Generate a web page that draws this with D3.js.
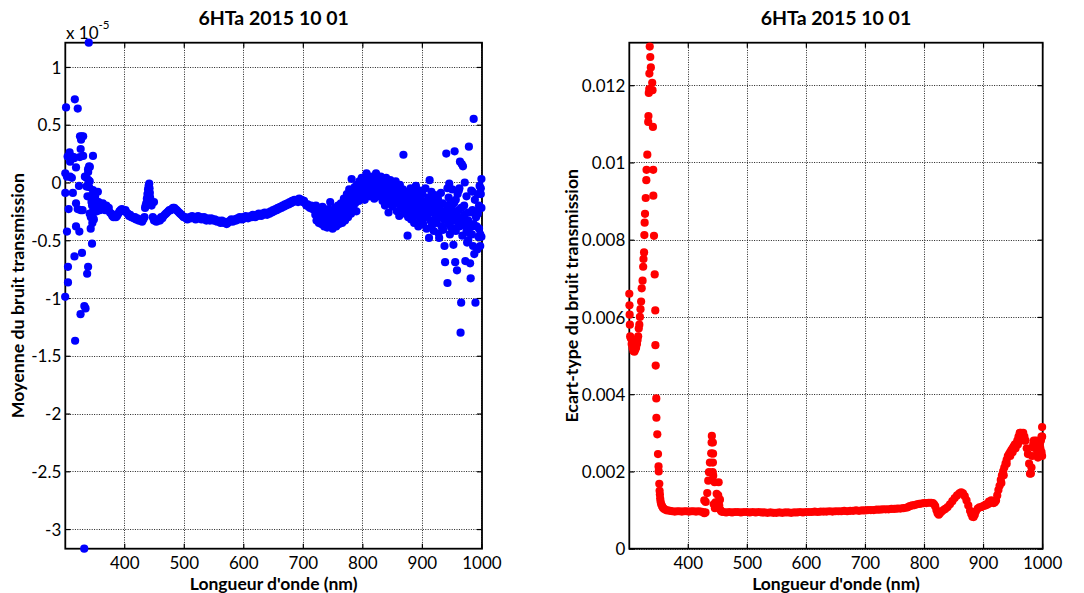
<!DOCTYPE html>
<html><head><meta charset="utf-8">
<script src="https://cdn.jsdelivr.net/npm/d3@7"></script>
<style>
body{margin:0;background:#fff;}
svg text{font-family:"Lato","Open Sans",sans-serif;fill:#000;}
</style></head><body>
<svg id="chart" width="1084" height="593"></svg>
<script>
// ---------- text ----------
const titleText = "6HTa 2015 10 01";
const xLabelText = "Longueur d'onde (nm)";
const meanLabelText = "Moyenne du bruit transmission";
const stdLabelText = "Ecart-type du bruit transmission";

// ---------- ticks ----------
const xTicks = [400, 500, 600, 700, 800, 900, 1000];
const meanTicks = [1, 0.5, 0, -0.5, -1, -1.5, -2, -2.5, -3];
const meanTickLabels = ["1", "0.5", "0", "-0.5", "-1", "-1.5", "-2", "-2.5", "-3"];
const stdTicks = [0, 0.002, 0.004, 0.006, 0.008, 0.01, 0.012];
const stdTickLabels = ["0", "0.002", "0.004", "0.006", "0.008", "0.01", "0.012"];
const xDomain = [301, 1001];
const meanDomain = [-3.17, 1.21];   // x 10^-5
const stdDomain = [0, 0.0131];

// ---------- mean of noise (units of 1e-5): [wavelength nm, value] ----------
const meanUvScatter = [
 [340.4,1.21],[302.2,0.65],[317,0.72],[321.9,0.64],[325.7,0.40],[328.5,0.40],[331,0.40],[327.5,0.37],
 [326.8,0.29],[331,0.23],[347.5,0.23],[304.9,0.225],[308.2,0.26],[312,0.225],[309,0.18],[315.8,0.21],
 [319,0.13],[339.3,0.115],[341,0.14],[301,0.08],[303.8,0.05],[309,0.05],[312,0.04],[333.9,0.05],
 [336.6,0.04],[342,0.01],[324,-0.03],[336.6,-0.035],[301,-0.09],[313.7,-0.09],[347.5,-0.065],[355.7,-0.08],
 [350.3,-0.15],[306.6,-0.23],[319,-0.18],[321.8,-0.23],[327,-0.24],[330,-0.24],[342,-0.27],[347.5,-0.25],
 [349,-0.32],[346.4,-0.35],[343.7,-0.4],[303.8,-0.425],[319,-0.38],[324.6,-0.425],[345.9,-0.53],[316.4,-0.64],
 [329,-0.61],[305.5,-0.73],[339.3,-0.73],[337.7,-0.79],[305.5,-0.865],[300.8,-0.99],[326.6,-1.14],[333,-1.07],
 [335,-1.09],[317.5,-1.37],[332.8,-3.17],[315.3,0.22],[325.4,0.22],[342.2,0.135],[339.4,0.09],[341,-0.04],
 [338.3,-0.12],[343,-0.12],[345,-0.17],[346,-0.2],[348,-0.1],[349,-0.18],[350,-0.22],[351,-0.12],
 [352,-0.2],[353,-0.16],[354,-0.25],[355,-0.19],[356,-0.23],[357,-0.17],[358,-0.21],[359,-0.24],
 [344,-0.3],[347,-0.28],[340,0.02],[338,-0.03]
];
const meanBand = [
 [360,-0.2],[362,-0.22],[364,-0.18],[366,-0.21],[368,-0.24],[370,-0.2],[372,-0.23],[374,-0.22],[376,-0.26],[378,-0.27],
 [380,-0.29],[382,-0.3],[384,-0.28],[386,-0.3],[388,-0.29],[390,-0.27],[392,-0.25],[394,-0.24],[396,-0.23],[398,-0.24],
 [400,-0.25],[402,-0.24],[404,-0.26],[406,-0.27],[408,-0.29],[410,-0.28],[412,-0.3],[414,-0.3],[416,-0.31],[418,-0.3],
 [420,-0.32],[422,-0.31],[424,-0.33],[426,-0.32],[428,-0.33],[430,-0.34],[432,-0.32],[434,-0.3],
 [448,-0.3],[450,-0.33],[452,-0.32],[454,-0.34],[456,-0.33],[458,-0.32],[460,-0.33],[462,-0.3],[464,-0.31],[466,-0.29],
 [468,-0.28],[470,-0.27],[472,-0.26],[474,-0.25],[476,-0.24],[478,-0.24],[480,-0.23],[482,-0.22],[484,-0.22],[486,-0.23],
 [488,-0.24],[490,-0.25],[492,-0.26],[494,-0.27],[496,-0.28],[498,-0.29],[500,-0.3],[502,-0.3],[504,-0.31],[506,-0.32],
 [508,-0.31],[510,-0.3],[512,-0.31],[514,-0.29],[516,-0.3],[518,-0.31],[520,-0.32],[522,-0.3],[524,-0.29],[526,-0.31],
 [528,-0.3],[530,-0.32],[532,-0.31],[534,-0.3],[536,-0.32],[538,-0.33],[540,-0.31],[542,-0.32],[544,-0.33],[546,-0.31],
 [548,-0.32],[550,-0.33],[552,-0.32],[554,-0.33],[556,-0.34],[558,-0.33],[560,-0.34],[562,-0.35],[564,-0.33],[566,-0.34],
 [568,-0.35],[570,-0.34],[572,-0.36],[574,-0.35],[576,-0.34],[578,-0.33],[580,-0.32],[582,-0.34],[584,-0.33],[586,-0.32],
 [588,-0.33],[590,-0.31],[592,-0.32],[594,-0.3],[596,-0.31],[598,-0.32],[600,-0.3],[602,-0.31],[604,-0.29],[606,-0.3],
 [608,-0.31],[610,-0.3],[612,-0.29],[614,-0.3],[616,-0.28],[618,-0.29],[620,-0.3],[622,-0.28],[624,-0.29],[626,-0.27],
 [628,-0.28],[630,-0.29],[632,-0.27],[634,-0.28],[636,-0.26],[638,-0.27],[640,-0.28],[642,-0.26],[644,-0.27],[646,-0.25],
 [648,-0.26],[650,-0.24],[652,-0.25],[654,-0.23],[656,-0.24],[658,-0.22],[660,-0.23],[662,-0.21],[664,-0.22],[666,-0.2],
 [668,-0.21],[670,-0.19],[672,-0.2],[674,-0.18],[676,-0.19],[678,-0.17],[680,-0.18],[682,-0.16],[684,-0.17],[686,-0.15],
 [688,-0.16],[690,-0.15],[692,-0.17],[694,-0.14],[696,-0.16],[698,-0.15],[700,-0.17],[702,-0.16],[704,-0.18],[706,-0.2],
 [708,-0.19],[710,-0.21],[712,-0.22],[714,-0.2],[716,-0.23],[718,-0.21],[720,-0.24]
];
const meanSpike = [
 [435,-0.22],[436,-0.2],[437,-0.18],[438,-0.14],[439,-0.1],[439.5,-0.15],[440,-0.06],[441,-0.03],[441.5,-0.11],
 [442,-0.01],[442.5,-0.05],[443,-0.09],[443.5,-0.13],[444,-0.17],[446,-0.2],[450,-0.17]
];
const meanCloud = [
 [721,-0.28],[722,-0.2],[723,-0.33],[724,-0.25],[725,-0.3],[726,-0.22],[727,-0.35],[728,-0.27],[729,-0.31],[730,-0.24],
 [731,-0.36],[732,-0.29],[733,-0.21],[734,-0.33],[735,-0.27],[736,-0.38],[737,-0.3],[738,-0.24],[739,-0.34],[740,-0.28],
 [741,-0.39],[742,-0.31],[743,-0.23],[744,-0.35],[745,-0.27],[746,-0.17],[747,-0.37],[748,-0.3],[749,-0.25],[750,-0.4],
 [751,-0.33],[752,-0.28],[753,-0.36],[754,-0.22],[755,-0.31],[756,-0.38],[757,-0.27],[758,-0.34],[759,-0.2],[760,-0.3],
 [761,-0.36],[762,-0.25],[763,-0.32],[764,-0.18],[765,-0.28],[766,-0.35],[767,-0.22],[768,-0.3],[769,-0.14],[770,-0.26],
 [771,-0.33],[772,-0.2],[773,-0.27],[774,-0.1],[775,-0.23],[776,-0.3],[777,-0.16],[778,-0.06],[779,-0.21],[780,-0.12],
 [781,-0.27],[782,0.03],[783,-0.17],[784,-0.08],[785,-0.22],[786,-0.13],[787,-0.04],[788,-0.18],[789,-0.09],[790,-0.25],
 [791,-0.02],[792,-0.12],[793,-0.06],[794,-0.16],[795,0.01],[796,-0.08],[797,-0.03],[798,-0.13],[799,0.04],[800,-0.05],
 [801,-0.1],[802,0.0],[803,-0.07],[804,-0.15],[805,0.02],[806,-0.04],[807,0.08],[808,-0.09],[809,-0.01],[810,-0.06],
 [811,0.03],[812,-0.12],[813,-0.02],[814,0.05],[815,-0.07],[816,-0.01],[817,-0.1],[818,0.04],[819,-0.04],[820,-0.14],
 [821,0.01],[822,-0.06],[823,0.08],[824,-0.03],[825,-0.09],[826,0.02],[827,-0.05],[828,-0.12],[829,0.0],[830,-0.07],
 [831,0.05],[832,-0.1],[833,-0.03],[834,-0.16],[835,0.01],[836,-0.07],[837,-0.12],[838,-0.2],[839,-0.05],[840,0.04],
 [841,-0.09],[842,-0.15],[843,-0.02],[844,-0.26],[845,-0.08],[846,-0.13],[847,0.02],[848,-0.19],[849,-0.06],[850,-0.11],
 [851,-0.21],[852,-0.03],[853,-0.14],[854,-0.08],[855,-0.18],[856,0.01],[857,-0.1],[858,-0.25],[859,-0.05],[860,-0.16],
 [861,-0.12],[862,-0.29],[863,-0.02],[864,-0.2],[865,-0.09],[866,-0.15],[867,-0.23],[868,-0.06],[869,0.24],[870,-0.13],
 [871,-0.19],[872,-0.27],[873,-0.08],[874,-0.22],[875,-0.14],[876,-0.46],[877,-0.3],[878,-0.11],[879,-0.24],[880,-0.18],
 [881,-0.05],[882,-0.32],[883,-0.2],[884,-0.13],[885,-0.26],[886,-0.09],[887,-0.35],[888,-0.16],[889,-0.22],[890,-0.03],
 [891,-0.29],[892,-0.12],[893,-0.19],[894,-0.38],[895,-0.25],[896,-0.07],[897,-0.21],[898,-0.32],[899,-0.15],[900,-0.27],
 [901,-0.1],[902,-0.36],[903,-0.22],[904,-0.17],[905,-0.3],[906,-0.05],[907,-0.25],[908,-0.4],[909,-0.19],[910,-0.28],
 [911,-0.13],[912,-0.48],[913,0.02],[914,-0.33],[915,-0.21],[916,-0.08],[917,-0.37],[918,-0.26],[919,-0.16],[920,-0.42],
 [921,-0.23],[922,-0.11],[923,-0.31],[924,-0.19],[925,-0.35],[926,-0.26],[927,-0.14],[928,-0.44],[929,-0.48],[930,-0.22],
 [931,-0.3],[932,-0.09],[933,-0.38],[934,-0.25],[935,-0.18],[936,-0.41],[937,-0.32],[938,-0.55],[939,-0.69],[940,-0.27],
 [941,0.25],[942,-0.2],[943,-0.87],[944,-0.36],[945,-0.13],[946,-0.01],[947,-0.45],[948,-0.28],[949,-0.39],[950,-0.22],
 [951,-0.06],[952,-0.33],[953,-0.54],[954,-0.18],[955,0.27],[956,-0.69],[957,-0.42],[958,-0.27],[959,-0.76],[960,-0.1],
 [961,-0.35],[962,-0.24],[963,-0.05],[964,0.18],[965,-1.30],[966,-1.04],[967,0.16],[968,-0.46],[969,0.14],[970,-0.3],
 [971,-0.2],[972,0.0],[973,-0.68],[974,-0.38],[975,-0.12],[976,-0.52],[977,-0.26],[978,-0.5],[979,0.31],[980,-0.44],
 [981,-0.7],[982,-0.83],[983,-0.07],[984,-0.38],[985,-0.24],[986,-0.55],[987,0.55],[988,-0.62],[989,-0.15],[990,-1.04],
 [991,-0.3],[992,-0.38],[993,-0.58],[994,-0.1],[995,-0.47],[996,-0.2],[997,-0.03],[998,-0.45],[999,-0.1],[1000,0.03],
 [1000,-0.22],[1000,-0.47],[942,-0.3],[945,-0.25],[948,-0.18],[951,-0.32],[954,-0.4],[957,-0.15],[960,-0.3],[963,-0.38],
 [966,-0.22],[969,-0.35],[972,-0.28],[975,-0.42],[978,-0.33],[981,-0.26],[984,-0.45],[987,-0.36],[990,-0.28],[993,-0.25],
 [996,-0.4],[999,-0.05],[943,-0.05],[962,-0.07],[985,-0.08],[994,-0.27],[998,-0.55]
];

// ---------- standard deviation of noise: [wavelength nm, value] ----------
const stdUv = [
 [301,0.0066],[301.3,0.0063],[301.6,0.00606],[302,0.0058],[302.5,0.0055],[303.5,0.00545],[305,0.0053],[306.5,0.0052],
 [308,0.00512],[309.5,0.0051],[311,0.00515],[312.5,0.0052],[314,0.0053],[315,0.0054],[316,0.0055],[317,0.0057],
 [318,0.0058],[319,0.006],[320,0.0062],[321,0.0064],[322,0.00674],[323.5,0.00694],[324.5,0.0073],[325,0.0075],
 [326,0.00767],[326.5,0.00812],[327,0.00844],[327.6,0.00867],[328.8,0.00908],[329.8,0.00954],[330.2,0.00981],[331.5,0.0102],
 [333,0.01105],[333.4,0.0112],[334,0.0118],[334.8,0.0119],[335,0.0123],[335.6,0.0130],[336.5,0.01273],[337.5,0.01246],
 [339.8,0.01206],[340.3,0.01187],[341,0.01092],[341.5,0.00981],[341.7,0.00914],[342.8,0.0081],[344,0.0071],[345,0.00617],
 [345.2,0.00527],[345.7,0.00474],[346.7,0.00389],[346.9,0.00339],[348.4,0.00296],[349.6,0.00245],[350.5,0.00213],[350.8,0.002],
 [351.8,0.00168],[352.3,0.0015],[352.8,0.0014],[353.3,0.0013],[354,0.00122],[355,0.00115],[356.5,0.0011],[358,0.00106],
 [360,0.00103],[363,0.001],[366,0.00099],[370,0.00098]
];
const stdSpike = [
 [428,0.00125],[430.3,0.00121],[433,0.00144],[434.7,0.00176],[435.9,0.00198],[437.5,0.00223],[439.7,0.00247],[440.4,0.00275],
 [440.8,0.00292],[442.5,0.00275],[442.8,0.00246],[442.6,0.00223],[442.1,0.00198],[443.1,0.00189],[445.5,0.00172],[452.3,0.00172],
 [448.9,0.00142],[451.6,0.00138],[454.5,0.00127],[453.3,0.00112],[447,0.0012],[449,0.0011],[446,0.00105],[444,0.00115],
 [455.5,0.001],[457,0.00096]
];
const stdFlat = [
 [374,0.00097],[378,0.00096],[382,0.00097],[386,0.00097],[390,0.00096],[394,0.00097],[398,0.00097],[402,0.00096],
 [406,0.00097],[410,0.00097],[414,0.00096],[418,0.00097],[422,0.00096],[426,0.00095],[428,0.00092],[430,0.00094],
 [460,0.00095],[465,0.00094],[470,0.00095],[475,0.00094],[480,0.00095],[485,0.00095],[490,0.00094],[495,0.00095],
 [500,0.00095],[505,0.00094],[510,0.00095],[515,0.00094],[520,0.00095],[525,0.00094],[530,0.00094],[535,0.00093],
 [540,0.00094],[545,0.00093],[550,0.00093],[555,0.00094],[560,0.00093],[565,0.00094],[570,0.00094],[575,0.00093],
 [580,0.00094],[585,0.00094],[590,0.00095],[595,0.00094],[600,0.00095],[605,0.00095],[610,0.00095],[615,0.00096],
 [620,0.00095],[625,0.00096],[630,0.00096],[635,0.00096],[640,0.00097],[645,0.00096],[650,0.00097],[655,0.00097],
 [660,0.00097],[665,0.00098],[670,0.00097],[675,0.00098],[680,0.00098],[685,0.00099],[690,0.00098],[695,0.00099],
 [700,0.00099],[705,0.001],[710,0.001],[715,0.001],[720,0.00101],[725,0.00101],[730,0.00102],[735,0.00102],
 [740,0.00102],[745,0.00103],[750,0.00103],[755,0.00104],[760,0.00104],[765,0.00105],[770,0.00106],[773,0.00108],
 [776,0.0011],[780,0.00112],[784,0.00113],[788,0.00115],[792,0.00116],[796,0.00117],[800,0.00118]
];
const stdNir = [
 [804,0.00118],[808,0.00119],[812,0.00119],[815,0.00118],[817,0.00115],[819,0.0011],[821,0.001],[823,0.00092],
 [825,0.00088],[827,0.00092],[830,0.00096],[833,0.001],[836,0.00103],[840,0.00108],[844,0.00115],[848,0.00123],
 [852,0.00131],[856,0.00138],[860,0.00143],[863,0.00146],[866,0.00143],[869,0.00136],[872,0.00125],[875,0.00112],
 [878,0.00098],[880,0.0009],[882,0.00083],[884,0.00082],[886,0.00088],[888,0.00097],[891,0.00104],[894,0.00107],
 [897,0.00108],[900,0.0011],[903,0.00112],[906,0.00113],[909,0.00116],[912,0.00119],[915,0.0012],[918,0.00118],
 [920,0.0012],[922,0.00125],[924,0.00138],[926,0.00152],[928,0.00163],[930,0.00178],[932,0.0019],[934,0.002],
 [936,0.0021],[938,0.0022],[940,0.0023],[942,0.0024],[944,0.00245],[946,0.0025],[948,0.00255],[950,0.0026],
 [952,0.00265],[954,0.0027],[956,0.0027],[958,0.0028],[960,0.0029],[962,0.003],[964,0.003],[966,0.0029],
 [968,0.003],[970,0.0029],[972,0.0028],[974,0.0026],[976,0.00245],[978,0.0022],[979.5,0.00194],[981,0.00195],
 [982,0.0021],[983,0.0024],[984.5,0.00262],[986,0.0028],[988,0.00275],[990,0.0028],[991.5,0.0026],[993,0.00236],
 [995,0.0025],[996,0.0027],[998,0.0028],[999,0.0029],[1000,0.00315],
 [931,0.0017],[935,0.0019],[940,0.0022],[946,0.0024],[950,0.0025],[955,0.0026],[959,0.0027],[963,0.0028],
 [969,0.0028],[985,0.0027],[989,0.0026],[992,0.0025],[997,0.0026],[1000,0.0029],[1000,0.0024],[999,0.0025],
 [905,0.00115],[910,0.00122],[914,0.00125],[917,0.00122]
];

// ---------- drawing ----------
const svg = d3.select("#chart");
const plotTop = 42.7, plotBottom = 548.7;

function panel(cfg) {
  const g = svg.append("g");
  const x = d3.scaleLinear().domain(xDomain).range([cfg.left, cfg.right]);
  const y = d3.scaleLinear().domain(cfg.yDomain).range([plotBottom, plotTop]);

  // grid (dotted)
  const grid = g.append("g").attr("stroke", "#222").attr("stroke-width", 1).attr("stroke-dasharray", "1,1.4");
  grid.selectAll("line.gx").data(xTicks).join("line").attr("class", "gx")
    .attr("x1", d => Math.round(x(d)) + 0.5).attr("x2", d => Math.round(x(d)) + 0.5)
    .attr("y1", plotTop).attr("y2", plotBottom);
  grid.selectAll("line.gy").data(cfg.yTicks).join("line").attr("class", "gy")
    .attr("y1", d => Math.round(y(d)) + 0.5).attr("y2", d => Math.round(y(d)) + 0.5)
    .attr("x1", cfg.left).attr("x2", cfg.right);

  // axes with inward ticks
  const ax = g.append("g").attr("transform", `translate(0,${plotBottom})`)
    .call(d3.axisBottom(x).tickValues(xTicks).tickSizeInner(-5).tickSizeOuter(0).tickPadding(0).tickFormat(d3.format("d")));
  ax.selectAll("text").attr("y", 20.3).attr("dy", null).style("font-size", "17px");
  const axT = g.append("g").attr("transform", `translate(0,${plotTop})`)
    .call(d3.axisTop(x).tickValues(xTicks).tickSizeInner(-5).tickSizeOuter(0).tickFormat(""));
  const ay = g.append("g").attr("transform", `translate(${cfg.left},0)`)
    .call(d3.axisLeft(y).tickValues(cfg.yTicks).tickSizeInner(-5).tickSizeOuter(0).tickPadding(0)
      .tickFormat((d, i) => cfg.yLabels[i]));
  ay.selectAll("text").attr("x", -4).attr("dy", "0.36em").style("font-size", "17px");
  const ayR = g.append("g").attr("transform", `translate(${cfg.right},0)`)
    .call(d3.axisRight(y).tickValues(cfg.yTicks).tickSizeInner(-5).tickSizeOuter(0).tickFormat(""));
  [ax, axT, ay, ayR].forEach(a => { a.select(".domain").remove(); a.selectAll("line").attr("stroke", "#000").attr("stroke-width", 1.2); a.attr("font-family", null); });

  // box
  g.append("rect").attr("x", cfg.left).attr("y", plotTop).attr("width", cfg.right - cfg.left).attr("height", plotBottom - plotTop)
    .attr("fill", "none").attr("stroke", "#000").attr("stroke-width", 1.8);

  // points
  g.append("g").selectAll("circle").data(cfg.points).join("circle")
    .attr("cx", d => x(d[0])).attr("cy", d => y(d[1])).attr("r", 4.1).attr("fill", cfg.color);

  // title
  g.append("text").attr("x", (cfg.left + cfg.right) / 2).attr("y", 25).attr("text-anchor", "middle")
    .style("font-size", "19.5px").style("font-weight", "bold").text(titleText);
  // x label
  g.append("text").attr("x", (cfg.left + cfg.right) / 2).attr("y", 590.3).attr("text-anchor", "middle")
    .style("font-size", "17.5px").style("font-weight", "bold").text(xLabelText);
  // y label
  g.append("text").attr("transform", `translate(${cfg.ylabelX},${(plotTop + plotBottom) / 2}) rotate(-90)`)
    .attr("text-anchor", "middle").style("font-size", "17.8px").style("font-weight", "bold").text(cfg.ylabel);
  return g;
}

panel({ left: 65.3, right: 482, yDomain: meanDomain, yTicks: meanTicks, yLabels: meanTickLabels,
  points: meanUvScatter.concat(meanBand, meanSpike, meanCloud), color: "#0000ff",
  ylabel: meanLabelText, ylabelX: 23.5 });
panel({ left: 629.3, right: 1042.7, yDomain: stdDomain, yTicks: stdTicks, yLabels: stdTickLabels,
  points: stdFlat.concat(stdNir, stdSpike, stdUv), color: "#ff0000",
  ylabel: stdLabelText, ylabelX: 578 });

// exponent marker for the left axis
const expo = svg.append("text").attr("x", 66).attr("y", 39).style("font-size", "17px");
expo.append("tspan").text("x 10");
expo.append("tspan").attr("dy", -10).style("font-size", "11.5px").text("-5");
</script>
</body></html>
